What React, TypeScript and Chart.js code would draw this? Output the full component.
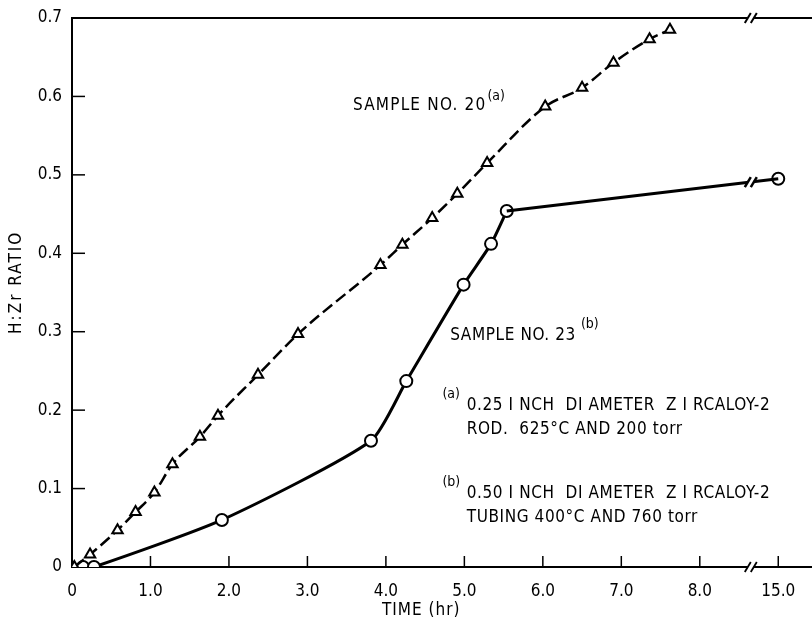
import React, { useEffect, useRef } from "react";
import { Chart, registerables } from "chart.js";

Chart.register(...registerables);

// Sample No. 20 (a) — triangles, dashed
const s20Hours = [0.03, 0.23, 0.58, 0.81, 1.05, 1.28, 1.63, 1.86, 2.37, 2.88, 3.93, 4.21, 4.59, 4.91, 5.29, 6.03, 6.5, 6.9, 7.36, 7.62];
const s20Ratio = [0.0, 0.016, 0.047, 0.07, 0.095, 0.131, 0.166, 0.193, 0.245, 0.297, 0.385, 0.411, 0.445, 0.476, 0.515, 0.587, 0.611, 0.643, 0.673, 0.685];

// Sample No. 23 (b) — circles, solid
const s23Hours = [0.14, 0.28, 1.91, 3.81, 4.26, 4.99, 5.34, 5.54, 15.0];
const s23Ratio = [0.0, 0.0, 0.06, 0.161, 0.237, 0.36, 0.412, 0.454, 0.495];

const xTickValues = [0, 1, 2, 3, 4, 5, 6, 7, 8, 9];
const xTickLabels = ["0", "1.0", "2.0", "3.0", "4.0", "5.0", "6.0", "7.0", "8.0", "15.0"];
const yTickLabels = ["0", "0.1", "0.2", "0.3", "0.4", "0.5", "0.6", "0.7"];

const BREAK_AT = 8.65; // axis position of the scale break
const FONT = "'DejaVu Sans Condensed', 'Liberation Sans Narrow', 'DejaVu Sans', sans-serif";

// hours -> axis position (8.0 hr ... 15.0 hr compressed by the break)
const toAxis = (h: number) => (h <= 8.5 ? h : 9 + (h - 15) * 0.1);

const decorations = {
  id: "decorations",
  afterDatasetsDraw(chart: any) {
    const { ctx, chartArea, scales } = chart;
    const xs = scales.x;
    const ys = scales.y;
    ctx.save();
    ctx.strokeStyle = "#000";
    ctx.fillStyle = "#000";
    ctx.lineCap = "butt";

    // inward tick marks
    ctx.lineWidth = 1.5;
    xTickValues.forEach((v) => {
      const px = xs.getPixelForValue(v);
      if (v === 0) return;
      ctx.beginPath();
      ctx.moveTo(px, chartArea.bottom);
      ctx.lineTo(px, chartArea.bottom - 11);
      ctx.stroke();
    });
    yTickLabels.forEach((_, i) => {
      const py = ys.getPixelForValue(i / 10);
      if (i === 0 || i === 7) return;
      ctx.beginPath();
      ctx.moveTo(chartArea.left, py);
      ctx.lineTo(chartArea.left + 13, py);
      ctx.stroke();
    });

    // top border
    const yTop = ys.getPixelForValue(0.7);
    ctx.lineWidth = 2;
    ctx.beginPath();
    ctx.moveTo(chartArea.left, yTop);
    ctx.lineTo(chartArea.right, yTop);
    ctx.stroke();

    const bx = xs.getPixelForValue(BREAK_AT);
    const drawBreak = (cx: number, cy: number, lw: number) => {
      ctx.fillStyle = "#fff";
      ctx.fillRect(cx - 3, cy - 4, 6, 8);
      ctx.strokeStyle = "#000";
      ctx.lineWidth = lw;
      [-3, 3].forEach((d) => {
        ctx.beginPath();
        ctx.moveTo(cx + d - 3, cy + 5);
        ctx.lineTo(cx + d + 3, cy - 5);
        ctx.stroke();
      });
    };
    drawBreak(bx, yTop, 2);
    drawBreak(bx, chartArea.bottom, 1.8);

    // break on the Sample 23 line
    const p1x = xs.getPixelForValue(toAxis(s23Hours[7]));
    const p1y = ys.getPixelForValue(s23Ratio[7]);
    const p2x = xs.getPixelForValue(toAxis(s23Hours[8]));
    const p2y = ys.getPixelForValue(s23Ratio[8]);
    const ly = p1y + ((bx - p1x) / (p2x - p1x)) * (p2y - p1y);
    drawBreak(bx, ly, 2.5);

    // annotations
    ctx.fillStyle = "#000";
    ctx.textBaseline = "alphabetic";
    ctx.textAlign = "left";
    const txt = (s: string, xv: number, yv: number, size: number, spacing = "1px") => {
      ctx.font = `${size}px ${FONT}`;
      (ctx as any).letterSpacing = spacing;
      const x = xs.getPixelForValue(xv);
      const y = ys.getPixelForValue(yv);
      ctx.fillText(s, x, y);
      return x + ctx.measureText(s).width;
    };
    const sup = (s: string, x: number, yv: number, dy: number) => {
      ctx.font = `14px ${FONT}`;
      (ctx as any).letterSpacing = "0px";
      ctx.fillText(s, x, ys.getPixelForValue(yv) + dy);
    };
    let e = txt("SAMPLE NO. 20", 3.58, 0.583, 17, "1.2px");
    sup("(a)", e + 1, 0.583, -10);

    e = txt("SAMPLE NO. 23", 4.82, 0.29, 17, "0.6px");
    sup("(b)", e + 5, 0.29, -12);

    sup("(a)", xs.getPixelForValue(4.72), 0.215, 0);
    txt("0.25 I NCH  DI AMETER  Z I RCALOY-2", 5.03, 0.2, 17, "0.6px");
    txt("ROD.  625°C AND 200 torr", 5.03, 0.17, 17, "0.6px");
    sup("(b)", xs.getPixelForValue(4.72), 0.103, 0);
    txt("0.50 I NCH  DI AMETER  Z I RCALOY-2", 5.03, 0.088, 17, "0.6px");
    txt("TUBING 400°C AND 760 torr", 5.03, 0.058, 17, "0.6px");

    // axis titles
    ctx.font = `17px ${FONT}`;
    (ctx as any).letterSpacing = "1px";
    ctx.textAlign = "center";
    ctx.textBaseline = "middle";
    ctx.fillText("TIME (hr)", xs.getPixelForValue(4.45), chartArea.bottom + 44);
    ctx.translate(17, ys.getPixelForValue(0.363));
    ctx.rotate(-Math.PI / 2);
    (ctx as any).letterSpacing = "2px";
    ctx.fillText("H:Zr RATIO", 0, 0);

    ctx.restore();
  },
};

const pointStyleCommon = {
  pointRadius: 6,
  pointBorderWidth: 2,
  pointBorderColor: "#000",
  pointBackgroundColor: "#fff",
};

export default function App() {
  const ref = useRef<HTMLCanvasElement | null>(null);

  useEffect(() => {
    if (!ref.current) return;
    const n = s23Hours.length;
    const chart = new Chart(ref.current, {
      type: "line",
      data: {
        datasets: [
          {
            label: "Sample No. 23 (to break)",
            data: s23Hours.slice(n - 2).map((h, i) => ({ x: toAxis(h), y: s23Ratio[n - 2 + i] })),
            borderColor: "#000",
            borderWidth: 3,
            pointRadius: 0,
            tension: 0,
          },
          {
            label: "Sample No. 20",
            data: s20Hours.map((h, i) => ({ x: toAxis(h), y: s20Ratio[i] })),
            borderColor: "#000",
            borderWidth: 2.5,
            borderDash: [12, 5],
            pointStyle: "triangle",
            ...pointStyleCommon,
            cubicInterpolationMode: "monotone",
          },
          {
            label: "Sample No. 23",
            data: s23Hours.slice(0, n - 1).map((h, i) => ({ x: toAxis(h), y: s23Ratio[i] })),
            borderColor: "#000",
            borderWidth: 3,
            pointStyle: "circle",
            ...pointStyleCommon,
            tension: 0.2,
          },
          {
            label: "Sample No. 23 (15 hr)",
            data: [{ x: toAxis(s23Hours[n - 1]), y: s23Ratio[n - 1] }],
            showLine: false,
            pointStyle: "circle",
            ...pointStyleCommon,
          },
        ],
      },
      options: {
        animation: false,
        responsive: false,
        maintainAspectRatio: false,
        layout: { autoPadding: false, padding: { top: 18, right: 0, left: 0, bottom: 0 } },
        plugins: { legend: { display: false }, tooltip: { enabled: false } },
        scales: {
          x: {
            type: "linear",
            min: 0,
            max: 9.43,
            afterBuildTicks: (scale: any) => {
              scale.ticks = xTickValues.map((v) => ({ value: v }));
            },
            afterFit: (scale: any) => {
              scale.height = 70;
              scale.paddingRight = 0;
              scale.paddingLeft = 0;
            },
            grid: { display: false, drawTicks: false },
            border: { display: true, color: "#000", width: 2 },
            ticks: {
              color: "#000",
              padding: 14,
              maxRotation: 0,
              autoSkip: false,
              font: { family: FONT, size: 17 },
              callback: (v: any) => xTickLabels[xTickValues.indexOf(Number(v))] ?? "",
            },
          },
          y: {
            min: 0,
            max: 0.7,
            afterBuildTicks: (scale: any) => {
              scale.ticks = yTickLabels.map((_, i) => ({ value: i / 10 }));
            },
            afterFit: (scale: any) => {
              scale.width = 72;
              scale.paddingTop = 0;
              scale.paddingBottom = 0;
            },
            grid: { display: false, drawTicks: false },
            border: { display: true, color: "#000", width: 2 },
            ticks: {
              color: "#000",
              padding: 10,
              autoSkip: false,
              font: { family: FONT, size: 17 },
              callback: (v: any, i: number) => yTickLabels[i] ?? "",
            },
          },
        },
      },
      plugins: [decorations],
    });
    return () => chart.destroy();
  }, []);

  return (
    <div style={{ position: "fixed", left: 0, top: 0, width: 812, height: 637, background: "#fff" }}>
      <canvas ref={ref} width={812} height={637} style={{ display: "block" }} />
    </div>
  );
}
